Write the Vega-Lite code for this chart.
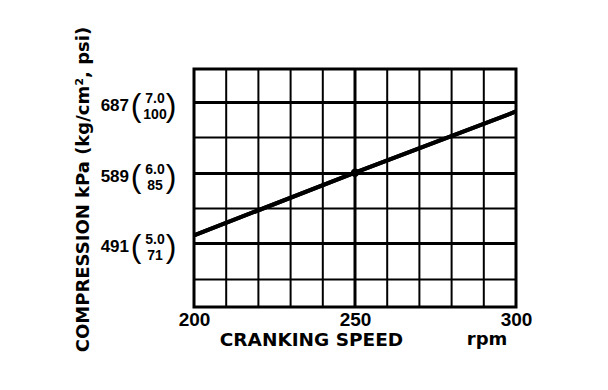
{
  "$schema": "https://vega.github.io/schema/vega-lite/v6.json",
  "autosize": "none",
  "width": 322,
  "height": 238,
  "padding": {"left": 194, "top": 69, "right": 92, "bottom": 83},
  "background": "white",
  "config": {
    "view": {"stroke": "black", "strokeWidth": 3},
    "font": "Liberation Sans"
  },
  "datasets": {
    "curve": [
      {"rpm": 200, "kpa": 502},
      {"rpm": 250, "kpa": 589},
      {"rpm": 300, "kpa": 674}
    ],
    "dot": [{"rpm": 250, "kpa": 589}],
    "labels": [
      {"rpm": 200, "kpa": 687, "main": "687", "kg": "7.0", "psi": "100"},
      {"rpm": 200, "kpa": 589, "main": "589", "kg": "6.0", "psi": "85"},
      {"rpm": 200, "kpa": 491, "main": "491", "kg": "5.0", "psi": "71"}
    ],
    "unit": [{"rpm": 291, "kpa": 402.5, "txt": "rpm"}]
  },
  "layer": [
    {
      "data": {"name": "curve"},
      "mark": {"type": "line", "color": "black", "strokeWidth": 4},
      "encoding": {
        "x": {
          "field": "rpm", "type": "quantitative",
          "scale": {"domain": [200, 300], "nice": false},
          "axis": {
            "values": [200, 250, 300],
            "title": "CRANKING SPEED",
            "titleX": 117, "titleY": 32,
            "titleAlign": "center", "titleBaseline": "middle",
            "titleFont": "DejaVu Sans", "titleFontSize": 18.5, "titleFontWeight": "bold", "titleColor": "black",
            "labelFontSize": 19, "labelFontWeight": "bold", "labelColor": "black",
            "labelPadding": 3, "labelFlush": false,
            "domain": false, "ticks": false,
            "grid": false
          }
        },
        "y": {
          "field": "kpa", "type": "quantitative",
          "scale": {"domain": [402.5, 733], "nice": false, "zero": false},
          "axis": {
            "values": [442, 491, 540, 589, 638, 687],
            "labels": false, "ticks": false, "domain": false,
            "grid": true, "gridColor": "black",
            "gridWidth": {"condition": {"test": "datum.value === 491 || datum.value === 589 || datum.value === 687", "value": 3}, "value": 2},
            "title": "COMPRESSION kPa (kg/cm², psi)",
            "titleX": -111, "titleY": 120,
            "titleAlign": "center", "titleBaseline": "middle",
            "titleFont": "DejaVu Sans", "titleFontSize": 18, "titleFontWeight": "bold", "titleColor": "black"
          }
        }
      }
    },
    {
      "data": {"values": [{"g": 210}, {"g": 220}, {"g": 230}, {"g": 240}, {"g": 250}, {"g": 260}, {"g": 270}, {"g": 280}, {"g": 290}]},
      "mark": {"type": "rule", "color": "black"},
      "encoding": {
        "x": {"field": "g", "type": "quantitative"},
        "strokeWidth": {"condition": {"test": "datum.g === 250", "value": 3}, "value": 2}
      }
    },
    {
      "data": {"name": "curve"},
      "mark": {"type": "line", "color": "black", "strokeWidth": 4},
      "encoding": {
        "x": {"field": "rpm", "type": "quantitative"},
        "y": {"field": "kpa", "type": "quantitative"}
      }
    },
    {
      "data": {"name": "dot"},
      "mark": {"type": "point", "filled": true, "color": "black", "size": 70, "opacity": 1},
      "encoding": {
        "x": {"field": "rpm", "type": "quantitative"},
        "y": {"field": "kpa", "type": "quantitative"}
      }
    },
    {
      "data": {"name": "labels"},
      "mark": {"type": "text", "align": "right", "baseline": "middle", "dx": -65, "dy": 4, "fontSize": 17, "fontWeight": "bold", "color": "black"},
      "encoding": {
        "x": {"field": "rpm", "type": "quantitative"},
        "y": {"field": "kpa", "type": "quantitative"},
        "text": {"field": "main"}
      }
    },
    {
      "data": {"name": "labels"},
      "mark": {"type": "text", "align": "center", "baseline": "middle", "dx": -58, "dy": 4, "fontSize": 32, "fontWeight": "normal", "color": "black", "text": "("},
      "encoding": {
        "x": {"field": "rpm", "type": "quantitative"},
        "y": {"field": "kpa", "type": "quantitative"}
      }
    },
    {
      "data": {"name": "labels"},
      "mark": {"type": "text", "align": "center", "baseline": "middle", "dx": -23, "dy": 4, "fontSize": 32, "fontWeight": "normal", "color": "black", "text": ")"},
      "encoding": {
        "x": {"field": "rpm", "type": "quantitative"},
        "y": {"field": "kpa", "type": "quantitative"}
      }
    },
    {
      "data": {"name": "labels"},
      "mark": {"type": "text", "align": "center", "baseline": "middle", "dx": -39, "dy": -3, "fontSize": 14, "fontWeight": "bold", "color": "black"},
      "encoding": {
        "x": {"field": "rpm", "type": "quantitative"},
        "y": {"field": "kpa", "type": "quantitative"},
        "text": {"field": "kg"}
      }
    },
    {
      "data": {"name": "labels"},
      "mark": {"type": "text", "align": "center", "baseline": "middle", "dx": -39, "dy": 13, "fontSize": 14, "fontWeight": "bold", "color": "black"},
      "encoding": {
        "x": {"field": "rpm", "type": "quantitative"},
        "y": {"field": "kpa", "type": "quantitative"},
        "text": {"field": "psi"}
      }
    },
    {
      "data": {"name": "unit"},
      "mark": {"type": "text", "align": "center", "baseline": "middle", "dy": 33, "font": "DejaVu Sans", "fontSize": 18, "fontWeight": "bold", "color": "black"},
      "encoding": {
        "x": {"field": "rpm", "type": "quantitative"},
        "y": {"field": "kpa", "type": "quantitative"},
        "text": {"field": "txt"}
      }
    }
  ]
}
